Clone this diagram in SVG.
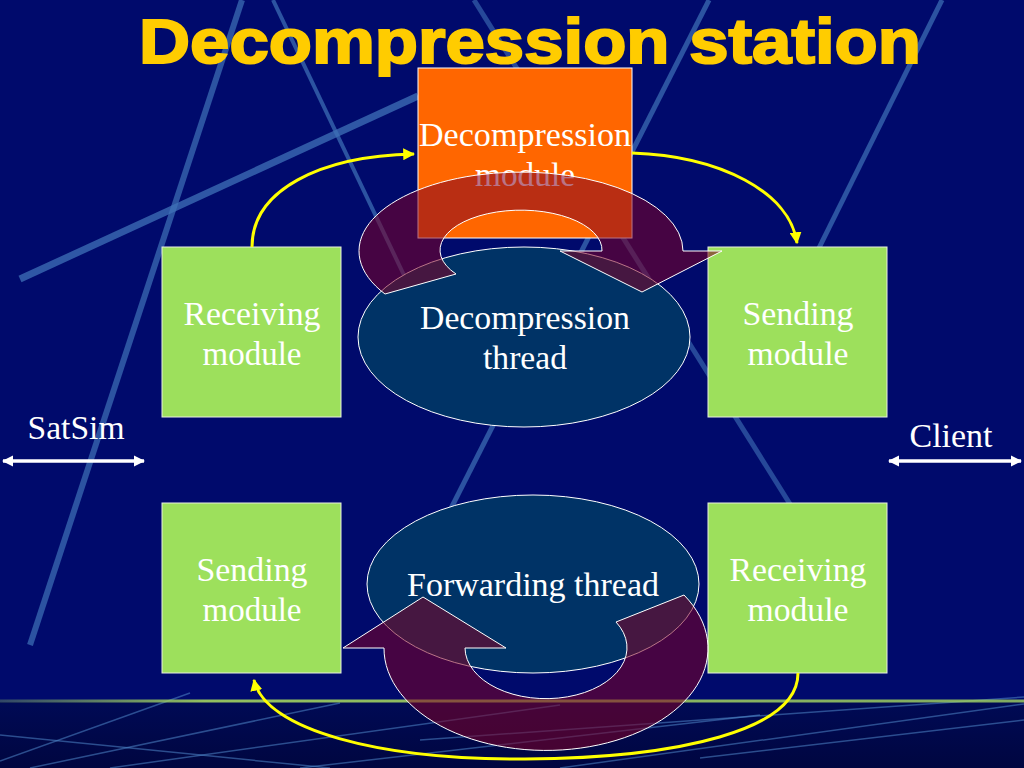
<svg xmlns="http://www.w3.org/2000/svg" width="1024" height="768" viewBox="0 0 1024 768">
<defs>
<style>
.streak{stroke:#3f72b8;stroke-linecap:butt;fill:none}
.fan{stroke:#4f86c8;stroke-width:1.5;fill:none;opacity:.55}
.box{fill:#9de05c;stroke:#e8f0e0;stroke-width:1}
.ell{fill:#003366;stroke:#ffffff;stroke-width:1}
.lbl{font-family:"Liberation Serif","Times New Roman",serif;font-size:34px;fill:#ffffff;text-anchor:middle}
.cyc{fill:#800022;fill-opacity:.55;stroke:#ffffff;stroke-width:1}
.ylw{fill:none;stroke:#ffff00;stroke-width:3}
.wht{fill:none;stroke:#ffffff;stroke-width:3.5}
</style>
<linearGradient id="band" x1="0" y1="0" x2="0" y2="1">
<stop offset="0" stop-color="#000a55"/>
<stop offset="1" stop-color="#000640"/>
</linearGradient>
<linearGradient id="gline" gradientUnits="userSpaceOnUse" x1="0" y1="0" x2="1024" y2="0">
<stop offset="0" stop-color="#a2d45e" stop-opacity=".3"/>
<stop offset=".2" stop-color="#a2d45e" stop-opacity=".9"/>
<stop offset="1" stop-color="#a2d45e" stop-opacity=".8"/>
</linearGradient>
<marker id="ya" viewBox="0 0 10 10" refX="9" refY="5" markerWidth="4" markerHeight="4" orient="auto" markerUnits="strokeWidth">
<path d="M0,0 L10,5 L0,10 Z" fill="#ffff00"/>
</marker>
<marker id="wa" viewBox="0 0 10 10" refX="9" refY="5" markerWidth="3.2" markerHeight="3.2" orient="auto-start-reverse" markerUnits="strokeWidth">
<path d="M0,0 L10,5 L0,10 Z" fill="#ffffff"/>
</marker>
</defs>

<g id="background">
<rect x="0" y="0" width="1024" height="768" fill="#000a6c"/>
<line class="streak" x1="242" y1="0" x2="30" y2="645" stroke-width="6" opacity=".7"/>
<line class="streak" x1="273" y1="0" x2="412" y2="292" stroke-width="4" opacity=".7"/>
<line class="streak" x1="20" y1="279" x2="418" y2="96" stroke-width="7" opacity=".75"/>
<line class="streak" x1="709" y1="0" x2="440" y2="530" stroke-width="5" opacity=".7"/>
<line class="streak" x1="942" y1="0" x2="818" y2="250" stroke-width="5" opacity=".7"/>
<line class="streak" x1="474" y1="0" x2="800" y2="520" stroke-width="5" opacity=".6"/>
<rect x="0" y="702" width="1024" height="66" fill="url(#band)"/>
<line class="fan" x1="0" y1="761" x2="190" y2="693"/>
<line class="fan" x1="30" y1="768" x2="340" y2="703"/>
<line class="fan" x1="110" y1="768" x2="560" y2="705"/>
<line class="fan" x1="0" y1="735" x2="330" y2="768"/>
<line class="fan" x1="420" y1="740" x2="1024" y2="697"/>
<line class="fan" x1="560" y1="768" x2="1024" y2="704"/>
<line class="fan" x1="300" y1="768" x2="760" y2="715"/>
<line class="fan" x1="700" y1="758" x2="1024" y2="720"/>
<rect x="0" y="699.5" width="1024" height="3" fill="url(#gline)"/>
</g>

<g id="title">
<text x="530" y="63" font-family="'Liberation Sans',Arial,sans-serif" font-weight="bold" font-size="63" fill="#ffcc00" stroke="#ffcc00" stroke-width="2" text-anchor="middle" textLength="782" lengthAdjust="spacingAndGlyphs">Decompression station</text>
</g>

<g id="decompression-module">
<rect x="418" y="68" width="214" height="170" fill="#ff6600" stroke="#ffffff" stroke-width="1"/>
<text class="lbl" x="525" y="146" textLength="212" lengthAdjust="spacingAndGlyphs">Decompression</text>
<text class="lbl" x="525" y="186" textLength="100" lengthAdjust="spacingAndGlyphs">module</text>
</g>

<g id="receiving-module-top">
<rect class="box" x="162" y="247" width="179" height="170"/>
<text class="lbl" x="252" y="325" textLength="137" lengthAdjust="spacingAndGlyphs">Receiving</text>
<text class="lbl" x="252" y="365" textLength="99" lengthAdjust="spacingAndGlyphs">module</text>
</g>

<g id="sending-module-top">
<rect class="box" x="708" y="247" width="179" height="170"/>
<text class="lbl" x="798" y="325" textLength="111" lengthAdjust="spacingAndGlyphs">Sending</text>
<text class="lbl" x="798" y="365" textLength="101" lengthAdjust="spacingAndGlyphs">module</text>
</g>

<g id="decompression-thread">
<ellipse class="ell" cx="524" cy="337" rx="166" ry="90"/>
<text class="lbl" x="525" y="329" textLength="210" lengthAdjust="spacingAndGlyphs">Decompression</text>
<text class="lbl" x="525" y="369" textLength="84" lengthAdjust="spacingAndGlyphs">thread</text>
</g>

<g id="sending-module-bottom">
<rect class="box" x="162" y="503" width="179" height="170"/>
<text class="lbl" x="252" y="581" textLength="111" lengthAdjust="spacingAndGlyphs">Sending</text>
<text class="lbl" x="252" y="621" textLength="99" lengthAdjust="spacingAndGlyphs">module</text>
</g>

<g id="receiving-module-bottom">
<rect class="box" x="708" y="503" width="179" height="170"/>
<text class="lbl" x="798" y="581" textLength="137" lengthAdjust="spacingAndGlyphs">Receiving</text>
<text class="lbl" x="798" y="621" textLength="101" lengthAdjust="spacingAndGlyphs">module</text>
</g>

<g id="forwarding-thread">
<ellipse class="ell" cx="533" cy="584" rx="166" ry="89"/>
<text class="lbl" x="533" y="596" textLength="252" lengthAdjust="spacingAndGlyphs">Forwarding thread</text>
</g>

<g id="satsim">
<text class="lbl" x="76" y="439" textLength="97" lengthAdjust="spacingAndGlyphs">SatSim</text>
</g>

<g id="client">
<text class="lbl" x="951" y="447" textLength="83" lengthAdjust="spacingAndGlyphs">Client</text>
</g>

<g id="cycle-arrows">
<path class="cyc" d="M385,294 A162 79 0 1 1 683,251 L722,251 L642,292 L560,251 L602,251 A81 40 0 1 0 456,274 Z"/>
<path class="cyc" d="M684,595 A162 102 0 1 1 384,648 L343,648 L423,597 L506,648 L465,648 A81 51 0 1 0 616,622 Z"/>
</g>

<g id="connectors">
<path class="ylw" d="M252,247 C252,190 320,156 414,154" marker-end="url(#ya)"/>
<path class="ylw" d="M632,153 C720,156 790,192 797,243" marker-end="url(#ya)"/>
<path class="ylw" d="M798,673 C798,730 680,758 525,759 C380,760 265,730 254,680" marker-end="url(#ya)"/>
<line class="wht" x1="3" y1="461" x2="144" y2="461" marker-start="url(#wa)" marker-end="url(#wa)"/>
<line class="wht" x1="889" y1="461" x2="1021" y2="461" marker-start="url(#wa)" marker-end="url(#wa)"/>
</g>
</svg>
